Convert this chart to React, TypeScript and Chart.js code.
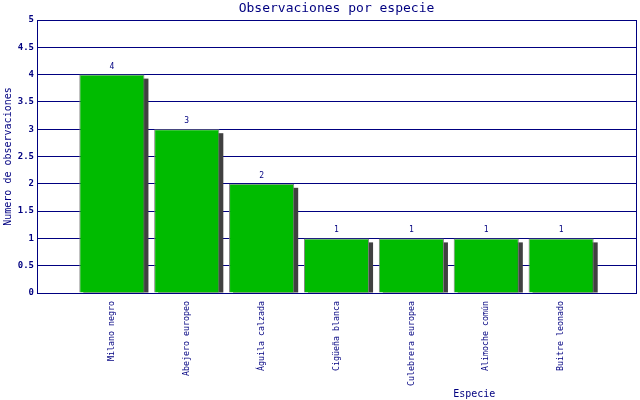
import React, { useEffect, useRef } from 'react';
import { Chart, registerables } from 'chart.js';

Chart.register(...registerables);

const categories = [
  'Milano negro',
  'Abejero europeo',
  'Águila calzada',
  'Cigüeña blanca',
  'Culebrera europea',
  'Alimoche común',
  'Buitre leonado',
];
const observations = [4, 3, 2, 1, 1, 1, 1];
const chartTitle = 'Observaciones por especie';
const xTitle = 'Especie';
const yTitle = 'Numero de observaciones';

const NAVY = '#000080';
const MONO = '"DejaVu Sans Mono", "Liberation Mono", monospace';

const shadowPlugin = {
  id: 'barShadow',
  beforeDatasetsDraw(chart: any) {
    const ctx = chart.ctx;
    const meta = chart.getDatasetMeta(0);
    ctx.save();
    ctx.fillStyle = '#404040';
    meta.data.forEach((el: any, i: number) => {
      const v = chart.data.datasets[0].data[i];
      if (v == null) return;
      const { x, y, base, width } = el.getProps(['x', 'y', 'base', 'width'], true);
      ctx.fillRect(x - width / 2 + 4, y + 4, width, base - y - 4);
    });
    ctx.restore();
  },
  afterDatasetsDraw(chart: any) {
    const ctx = chart.ctx;
    const meta = chart.getDatasetMeta(0);
    ctx.save();
    ctx.fillStyle = NAVY;
    ctx.font = `8px ${MONO}`;
    ctx.textAlign = 'center';
    ctx.textBaseline = 'bottom';
    meta.data.forEach((el: any, i: number) => {
      const v = chart.data.datasets[0].data[i];
      if (v == null) return;
      const { x, y } = el.getProps(['x', 'y'], true);
      ctx.fillText(String(v), x, y - 4);
    });
    ctx.restore();
  },
  afterDraw(chart: any) {
    const ctx = chart.ctx;
    const a = chart.chartArea;
    ctx.save();
    ctx.strokeStyle = NAVY;
    ctx.lineWidth = 1;
    ctx.beginPath();
    ctx.moveTo(Math.round(a.right) + 0.5, a.top);
    ctx.lineTo(Math.round(a.right) + 0.5, a.bottom);
    ctx.stroke();
    ctx.fillStyle = NAVY;
    ctx.font = `10px ${MONO}`;
    ctx.textAlign = 'center';
    ctx.textBaseline = 'middle';
    ctx.fillText(xTitle, a.left + a.width * 0.73, 394);
    ctx.restore();
  },
};

export default function App() {
  const ref = useRef<HTMLCanvasElement>(null);
  useEffect(() => {
    document.body.style.margin = '0';
    const canvas = ref.current;
    if (!canvas) return;
    const chart = new Chart(canvas, {
      type: 'bar',
      data: {
        labels: ['', ...categories, ''],
        datasets: [
          {
            data: [null, ...observations, null] as any,
            backgroundColor: '#00BB00',
            borderColor: '#808080',
            borderWidth: 1,
            barPercentage: 0.87,
            categoryPercentage: 1,
          },
        ],
      },
      options: {
        responsive: false,
        animation: false,
        devicePixelRatio: 1,
        layout: { padding: { left: 0, right: 4, top: 0, bottom: 0 } },
        plugins: {
          legend: { display: false },
          tooltip: { enabled: false },
          title: {
            display: true,
            text: chartTitle,
            fullSize: false,
            color: NAVY,
            font: { family: MONO, size: 13, weight: 'normal', lineHeight: 1.2 },
            padding: { top: 1, bottom: 3.4 },
          },
        },
        scales: {
          x: {
            type: 'category',
            offset: false,
            grid: { display: false },
            border: { display: true, color: NAVY },
            ticks: {
              autoSkip: false,
              minRotation: 90,
              maxRotation: 90,
              padding: 0,
              color: NAVY,
              font: { family: MONO, size: 8.3 },
            },
            afterFit(scale: any) {
              scale.height = 107;
              scale.paddingLeft = 0;
              scale.paddingRight = 0;
            },
          },
          y: {
            min: 0,
            max: 5,
            grid: { color: NAVY, drawTicks: false },
            border: { display: true, color: NAVY },
            ticks: {
              stepSize: 0.5,
              padding: 3,
              color: NAVY,
              font: { family: MONO, size: 9, weight: 'bold' },
              callback: (v: any) => String(v),
            },
            title: {
              display: true,
              text: yTitle,
              color: NAVY,
              font: { family: MONO, size: 10 },
              padding: { top: 2, bottom: 0 },
            },
            afterFit(scale: any) {
              scale.width = 37;
            },
          },
        },
      },
      plugins: [shadowPlugin],
    });
    return () => chart.destroy();
  }, []);
  return <canvas ref={ref} width={640} height={400} style={{ display: 'block' }} />;
}
